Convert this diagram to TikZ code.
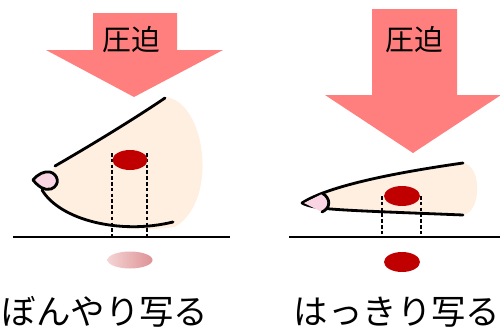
\documentclass[tikz,border=0pt]{standalone}
\usepackage{fontspec}
\newfontfamily\jpfont{Noto Sans CJK JP}
\usetikzlibrary{positioning}
\definecolor{press}{RGB}{255,127,127}
\definecolor{skin}{RGB}{254,239,224}
\definecolor{nip}{RGB}{249,213,228}
\definecolor{lesion}{RGB}{192,0,0}
\definecolor{blurl}{RGB}{244,212,212}
\definecolor{blurr}{RGB}{222,146,150}

\begin{document}
\begin{tikzpicture}[x=0.02cm,y=-0.02cm,line join=round,line cap=round]
  \tikzstyle{outline}=[draw=black,line width=1.6pt]
  \tikzstyle{proj}=[black,line width=0.6pt,dash pattern=on 2pt off 1.3pt,line cap=butt]
  \tikzstyle{film}=[black,line width=1.1pt,line cap=butt]
  \tikzstyle{label}=[font=\jpfont\fontsize{16.4}{18}\selectfont,inner sep=0pt]
  \tikzstyle{caption}=[font=\jpfont\fontsize{19.6}{22}\selectfont,inner sep=0pt]
  \useasboundingbox (0,0) rectangle (500,328);

  % press arrows
  \fill[press] (93,13) -- (177,13) -- (177,50) -- (223,50) -- (134,97)
               -- (46,50) -- (93,50) -- cycle;
  \fill[press] (372,9) -- (457,9) -- (457,95) -- (501,95) -- (413,153)
               -- (325,95) -- (372,95) -- cycle;
  \node[label] (pressL) at (131,40) {圧迫};
  \node[label] (pressR) at (414,40) {圧迫};

  % breast, not compressed
  \fill[skin] (55,166) .. controls (100,140) and (140,115) .. (165,97)
              .. controls (205,100) and (220,200) .. (175,227)
              .. controls (120,235) and (60,220) .. (42,190) -- cycle;
  \draw[outline] (55,166) .. controls (100,140) and (140,115) .. (165,98);
  \draw[outline] (42,190) .. controls (60,220) and (120,235) .. (173,222);
  \draw[outline,fill=nip] (33,180) .. controls (38,174) and (44,171) .. (50,172)
        .. controls (58,174) and (61,185) .. (51,189)
        .. controls (44,191) and (38,186) .. (33,180);
  \draw[proj] (112,153) -- (112,237);
  \draw[proj] (147,153) -- (147,237);
  \fill[lesion] (130,160) ellipse [x radius=17.5, y radius=10];
  \draw[film] (13,237) -- (230,237);
  \shade[left color=blurl,right color=blurr] (130,260) ellipse [x radius=22.5, y radius=8.5];
  \node[caption] (capL) at (105,312) {ぼんやり写る};

  % breast, compressed
  \fill[skin] (302,203) .. controls (330,185) and (400,172) .. (463,163)
              .. controls (482,165) and (482,212) .. (463,215)
              .. controls (340,210) and (315,210) .. (302,203) -- cycle;
  \draw[outline] (302,203) .. controls (330,185) and (400,172) .. (463,163);
  \draw[outline] (302,203) .. controls (315,210) and (340,210) .. (463,215);
  \fill[nip] (304,203) -- (322,194) .. controls (330,198) and (330,208) .. (322,212) -- cycle;
  \draw[outline] (322,193) .. controls (331,198) and (331,208) .. (322,212);
  \draw[proj] (382,196) -- (382,237);
  \draw[proj] (421,196) -- (421,237);
  \fill[lesion] (402,196) ellipse [x radius=18, y radius=10];
  \draw[film] (289,237) -- (500,237);
  \fill[lesion] (402,262) ellipse [x radius=18, y radius=10];
  \node[caption] (capR) at (397,312) {はっきり写る};
\end{tikzpicture}
\end{document}
